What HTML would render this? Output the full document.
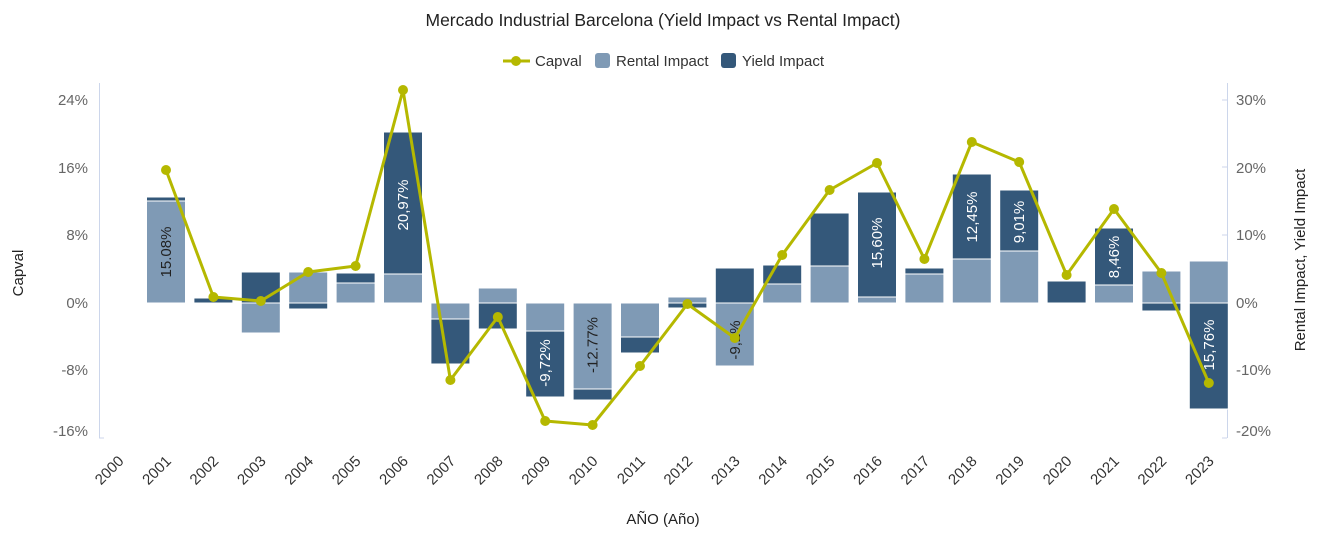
<!DOCTYPE html>
<html><head><meta charset="utf-8"><style>html,body{margin:0;padding:0;background:#fff}svg{display:block;font-family:"Liberation Sans",sans-serif}</style></head>
<body>
<svg width="1326" height="540" viewBox="0 0 1326 540" xmlns="http://www.w3.org/2000/svg">
<text x="663" y="26" text-anchor="middle" font-size="17.5" fill="#222">Mercado Industrial Barcelona (Yield Impact vs Rental Impact)</text>
<!-- legend -->
<line x1="503" y1="61" x2="530" y2="61" stroke="#b5b800" stroke-width="3"/>
<circle cx="516" cy="61" r="5" fill="#b5b800"/>
<text x="535" y="66" font-size="15" fill="#333">Capval</text>
<rect x="595" y="53" width="15" height="15" rx="3" fill="#7f9ab5"/>
<text x="616" y="66" font-size="15" fill="#333">Rental Impact</text>
<rect x="721" y="53" width="15" height="15" rx="3" fill="#34587a"/>
<text x="742" y="66" font-size="15" fill="#333">Yield Impact</text>
<!-- axes -->
<line x1="99.5" y1="83" x2="99.5" y2="438" stroke="#ccd6eb"/>
<line x1="1227.5" y1="83" x2="1227.5" y2="438" stroke="#ccd6eb"/>
<g stroke="#ccd6eb"><line x1="1222" y1="100" x2="1227" y2="100"/><line x1="1222" y1="167" x2="1227" y2="167"/><line x1="1222" y1="235" x2="1227" y2="235"/><line x1="1222" y1="303" x2="1227" y2="303"/><line x1="1222" y1="370" x2="1227" y2="370"/><line x1="1222" y1="438" x2="1227" y2="438"/><line x1="99" y1="438" x2="104" y2="438"/></g>
<g font-size="15" fill="#666" text-anchor="end">
<text x="88" y="105">24%</text><text x="88" y="173">16%</text><text x="88" y="240">8%</text><text x="88" y="308">0%</text><text x="88" y="375">-8%</text><text x="88" y="436">-16%</text>
</g>
<g font-size="15" fill="#666" text-anchor="start">
<text x="1236" y="105">30%</text><text x="1236" y="173">20%</text><text x="1236" y="240">10%</text><text x="1236" y="308">0%</text><text x="1236" y="375">-10%</text><text x="1236" y="436">-20%</text>
</g>
<text transform="translate(23,273) rotate(-90)" text-anchor="middle" font-size="15" fill="#222">Capval</text>
<text transform="translate(1305,260) rotate(-90)" text-anchor="middle" font-size="15" fill="#222">Rental Impact, Yield Impact</text>
<text x="663" y="524" text-anchor="middle" font-size="15" fill="#222">AÑO (Año)</text>
<!-- bars -->
<g stroke="#fff" stroke-width="1">
<g fill="#7f9ab5">
<rect x="146.5" y="201" width="39" height="102"/>
<rect x="241.3" y="303" width="39" height="30"/>
<rect x="288.7" y="272" width="39" height="31"/>
<rect x="336.1" y="283" width="39" height="20"/>
<rect x="383.5" y="274" width="39" height="29"/>
<rect x="430.9" y="303" width="39" height="16"/>
<rect x="478.3" y="288" width="39" height="15"/>
<rect x="525.7" y="303" width="39" height="28"/>
<rect x="573.1" y="303" width="39" height="86"/>
<rect x="620.5" y="303" width="39" height="34"/>
<rect x="667.9" y="297" width="39" height="6"/>
<rect x="715.3" y="303" width="39" height="63"/>
<rect x="762.7" y="284" width="39" height="19"/>
<rect x="810.1" y="266" width="39" height="37"/>
<rect x="857.5" y="297" width="39" height="6"/>
<rect x="904.9" y="274" width="39" height="29"/>
<rect x="952.3" y="259" width="39" height="44"/>
<rect x="999.7" y="251" width="39" height="52"/>
<rect x="1094.5" y="285" width="39" height="18"/>
<rect x="1141.9" y="271" width="39" height="32"/>
<rect x="1189.3" y="261" width="39" height="42"/>
</g>
<g fill="#34587a">
<rect x="146.5" y="197" width="39" height="4"/>
<rect x="193.9" y="298" width="39" height="5"/>
<rect x="241.3" y="272" width="39" height="31"/>
<rect x="288.7" y="303" width="39" height="6"/>
<rect x="336.1" y="273" width="39" height="10"/>
<rect x="383.5" y="132" width="39" height="142"/>
<rect x="430.9" y="319" width="39" height="45"/>
<rect x="478.3" y="303" width="39" height="26"/>
<rect x="525.7" y="331" width="39" height="66"/>
<rect x="573.1" y="389" width="39" height="11"/>
<rect x="620.5" y="337" width="39" height="16"/>
<rect x="667.9" y="303" width="39" height="5"/>
<rect x="715.3" y="268" width="39" height="35"/>
<rect x="762.7" y="265" width="39" height="19"/>
<rect x="810.1" y="213" width="39" height="53"/>
<rect x="857.5" y="192" width="39" height="105"/>
<rect x="904.9" y="268" width="39" height="6"/>
<rect x="952.3" y="174" width="39" height="85"/>
<rect x="999.7" y="190" width="39" height="61"/>
<rect x="1047.1" y="281" width="39" height="22"/>
<rect x="1094.5" y="228" width="39" height="57"/>
<rect x="1141.9" y="303" width="39" height="8"/>
<rect x="1189.3" y="303" width="39" height="106"/>
</g>
</g>
<!-- bar labels -->
<g font-size="15" text-anchor="middle">
<text transform="translate(171,252) rotate(-90)" fill="#222">15.08%</text>
<text transform="translate(408,205) rotate(-90)" fill="#fff">20,97%</text>
<text transform="translate(550,363) rotate(-90)" fill="#fff">-9,72%</text>
<text transform="translate(597.6,345) rotate(-90)" fill="#222">-12.77%</text>
<text transform="translate(739.8,340) rotate(-90)" fill="#222">-9,2%</text>
<text transform="translate(882,243) rotate(-90)" fill="#fff">15,60%</text>
<text transform="translate(976.8,217) rotate(-90)" fill="#fff">12,45%</text>
<text transform="translate(1024.2,222) rotate(-90)" fill="#fff">9,01%</text>
<text transform="translate(1119,257) rotate(-90)" fill="#fff">8,46%</text>
<text transform="translate(1213.8,345) rotate(-90)" fill="#fff">15,76%</text>
</g>
<!-- line -->
<polyline fill="none" stroke="#b5b800" stroke-width="3" stroke-linejoin="round" points="166,170 213.4,297 260.8,301 308.2,272 355.6,266 403,90 450.4,380 497.8,317 545.2,421 592.6,425 640,366 687.4,304 734.8,338 782.2,255 829.6,190 877,163 924.4,259 971.8,142 1019.2,162 1066.6,275 1114,209 1161.4,273 1208.8,383"/>
<g fill="#b5b800">
<circle cx="166" cy="170" r="5"/><circle cx="213.4" cy="297" r="5"/><circle cx="260.8" cy="301" r="5"/><circle cx="308.2" cy="272" r="5"/><circle cx="355.6" cy="266" r="5"/><circle cx="403" cy="90" r="5"/><circle cx="450.4" cy="380" r="5"/><circle cx="497.8" cy="317" r="5"/><circle cx="545.2" cy="421" r="5"/><circle cx="592.6" cy="425" r="5"/><circle cx="640" cy="366" r="5"/><circle cx="687.4" cy="304" r="5"/><circle cx="734.8" cy="338" r="5"/><circle cx="782.2" cy="255" r="5"/><circle cx="829.6" cy="190" r="5"/><circle cx="877" cy="163" r="5"/><circle cx="924.4" cy="259" r="5"/><circle cx="971.8" cy="142" r="5"/><circle cx="1019.2" cy="162" r="5"/><circle cx="1066.6" cy="275" r="5"/><circle cx="1114" cy="209" r="5"/><circle cx="1161.4" cy="273" r="5"/><circle cx="1208.8" cy="383" r="5"/>
</g>
<!-- x labels -->
<g font-size="15" fill="#333" text-anchor="end">
<text transform="translate(124.6,462) rotate(-45)">2000</text>
<text transform="translate(172,462) rotate(-45)">2001</text>
<text transform="translate(219.4,462) rotate(-45)">2002</text>
<text transform="translate(266.8,462) rotate(-45)">2003</text>
<text transform="translate(314.2,462) rotate(-45)">2004</text>
<text transform="translate(361.6,462) rotate(-45)">2005</text>
<text transform="translate(409,462) rotate(-45)">2006</text>
<text transform="translate(456.4,462) rotate(-45)">2007</text>
<text transform="translate(503.8,462) rotate(-45)">2008</text>
<text transform="translate(551.2,462) rotate(-45)">2009</text>
<text transform="translate(598.6,462) rotate(-45)">2010</text>
<text transform="translate(646,462) rotate(-45)">2011</text>
<text transform="translate(693.4,462) rotate(-45)">2012</text>
<text transform="translate(740.8,462) rotate(-45)">2013</text>
<text transform="translate(788.2,462) rotate(-45)">2014</text>
<text transform="translate(835.6,462) rotate(-45)">2015</text>
<text transform="translate(883,462) rotate(-45)">2016</text>
<text transform="translate(930.4,462) rotate(-45)">2017</text>
<text transform="translate(977.8,462) rotate(-45)">2018</text>
<text transform="translate(1025.2,462) rotate(-45)">2019</text>
<text transform="translate(1072.6,462) rotate(-45)">2020</text>
<text transform="translate(1120,462) rotate(-45)">2021</text>
<text transform="translate(1167.4,462) rotate(-45)">2022</text>
<text transform="translate(1214.8,462) rotate(-45)">2023</text>
</g>
</svg>
</body></html>
